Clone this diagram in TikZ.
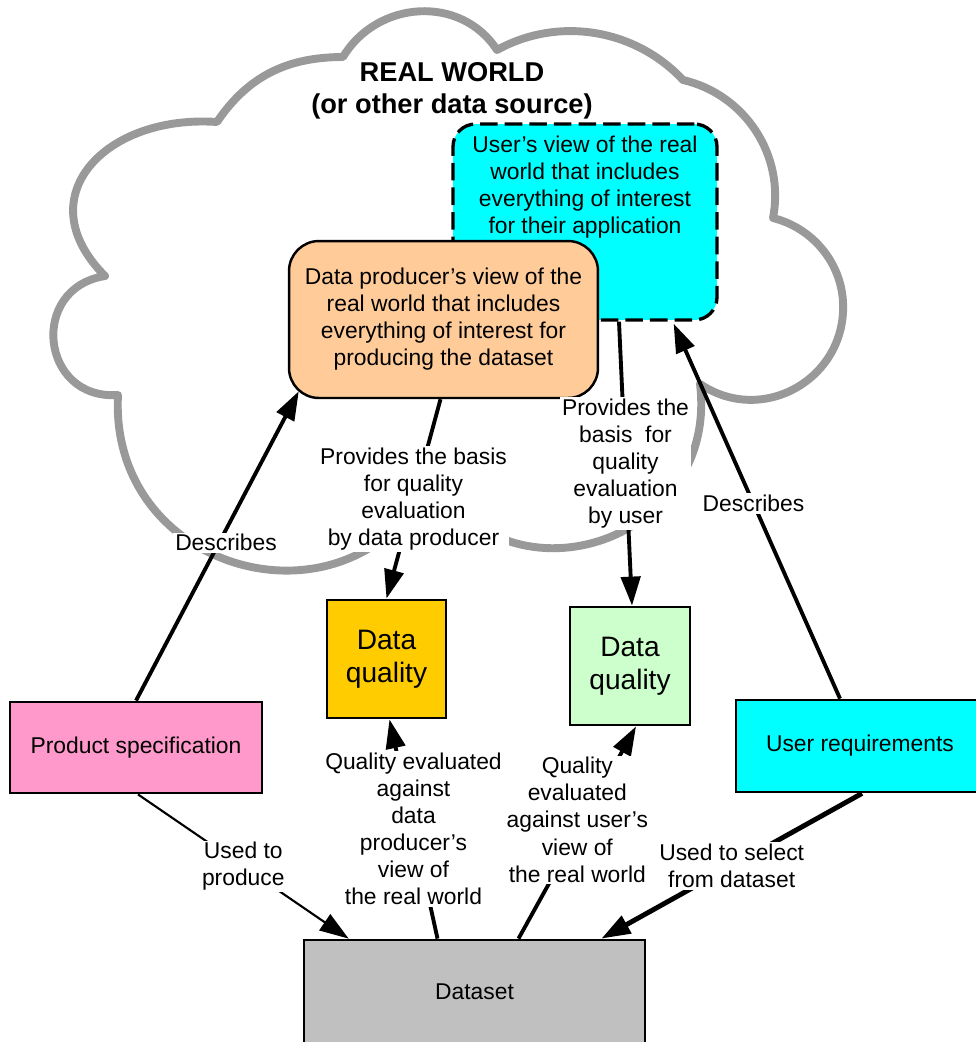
\documentclass[tikz,border=0pt]{standalone}
\usepackage{fontspec}
\setmainfont{Liberation Sans}
\usetikzlibrary{arrows.meta}

\definecolor{cloudgray}{HTML}{999999}
\definecolor{viewcyan}{HTML}{00FFFF}
\definecolor{peach}{HTML}{FFCC99}
\definecolor{gold}{HTML}{FFCC00}
\definecolor{mint}{HTML}{CCFFCC}
\definecolor{specpink}{HTML}{FF99CC}
\definecolor{datagray}{HTML}{C0C0C0}

\newcommand{\boxfont}{\fontsize{13}{15.4}\selectfont}
\newcommand{\dqfont}{\fontsize{16}{18.5}\selectfont}
\newcommand{\titlefont}{\fontsize{15.5}{18}\selectfont\bfseries}

\begin{document}
\begin{tikzpicture}
  [x=0.02cm,y=-0.02cm,
   box/.style={draw,align=center,font=\boxfont,line width=1.6pt},
   lbl/.style={fill=white,inner sep=1pt,align=center,font=\boxfont},
   arr/.style={-{Triangle[length=16.5pt,width=11pt]},line width=2.2pt}]
  \path[use as bounding box,fill=white] (0,0) rectangle (975,1042);

  % the cloud
  \draw[cloudgray,line width=4.5pt,line join=round]
    (343,57) to[out=59,in=123,looseness=1.1] (497,50)
    to[out=29,in=133,looseness=0.95] (683,80)
    to[out=-13,in=79,looseness=0.99] (773,218)
    to[out=-14,in=93,looseness=0.94] (843,302)
    to[out=-87,in=-34,looseness=1.18] (700,384)
    to[out=-83,in=-59,looseness=1.41] (432,478)
    to[out=-116,in=-93,looseness=1.42] (118,395)
    to[out=-176,in=-171,looseness=1.66] (105,276)
    to[out=135,in=176,looseness=1.5] (217,122)
    to[out=56,in=180,looseness=1] (343,57) -- cycle;

  \node[font=\titlefont,align=center] (title) at (452,91) {REAL WORLD\\(or other data source)};

  \node[box,fill=viewcyan,dash pattern=on 10pt off 4pt,line width=1.9pt,
        rounded corners=0.45cm,minimum width=5.28cm,minimum height=3.92cm,inner sep=0pt]
        (userview) at (585,222)
        {\parbox[c][3.9cm][t]{5.2cm}{\centering\vspace*{6.4pt}User’s view of the real\\world that includes\\everything of interest\\for their application}};
  \node[box,fill=peach,rounded corners=0.6cm,line width=1.4pt,
        minimum width=6.18cm,minimum height=3.14cm] (producer) at (443.5,319.5)
        {Data producer’s view of the\\real world that includes\\everything of interest for\\producing the dataset};

  \node[box,fill=gold,font=\dqfont,minimum width=2.38cm,minimum height=2.36cm] (dqprod) at (386.5,659) {Data\\quality};
  \node[box,fill=mint,font=\dqfont,minimum width=2.4cm,minimum height=2.36cm] (dquser) at (630,666) {Data\\quality};
  \node[box,fill=specpink,minimum width=5.04cm,minimum height=1.82cm] (spec) at (136,747.5) {Product specification};
  \node[box,fill=viewcyan,minimum width=4.96cm,minimum height=1.84cm] (userreq) at (860,746) {User requirements};
  \node[box,fill=datagray,minimum width=6.82cm,minimum height=2.08cm] (dataset) at (474.5,992) {Dataset};

  \draw[arr] (spec.north) -- ([shift={(11,-8)}]producer.south west)
    node[lbl,pos=0.51,xshift=0.14cm] {Describes};
  \draw[arr] ([shift={(-20,0)}]userreq.north) -- ([shift={(-45,2)}]userview.south east)
    node[lbl,pos=0.52] {Describes};
  \draw[arr] ([shift={(-3,0)}]producer.south) -- (dqprod.north)
    node[lbl,pos=0.5] {Provides the basis\\for quality\\evaluation\\by data producer};
  \draw[arr] ([shift={(34,0)}]userview.south) -- ([shift={(2,0)}]dquser.north)
    node[lbl,pos=0.5] {Provides the\\basis~ for\\quality\\evaluation\\by user};
  \draw[arr] ([shift={(-37,0)}]dataset.north) -- ([shift={(3,0)}]dqprod.south)
    node[lbl,pos=0.5] {Quality evaluated\\against\\data\\producer’s\\view of\\the real world};
  \draw[arr] ([shift={(44,0)}]dataset.north) -- ([shift={(6,0)}]dquser.south)
    node[lbl,pos=0.56,xshift=-0.14cm] {Quality\\evaluated\\against user’s\\view of\\the real world};
  \draw[arr,line width=1.2pt] ([shift={(2,0)}]spec.south) -- ([shift={(46,0)}]dataset.north west)
    node[lbl,pos=0.5] {Used to\\produce};
  \draw[arr,line width=2.8pt] ([shift={(2,0)}]userreq.south) -- ([shift={(-45,0)}]dataset.north east)
    node[lbl,pos=0.5] {Used to select\\from dataset};
\end{tikzpicture}
\end{document}
